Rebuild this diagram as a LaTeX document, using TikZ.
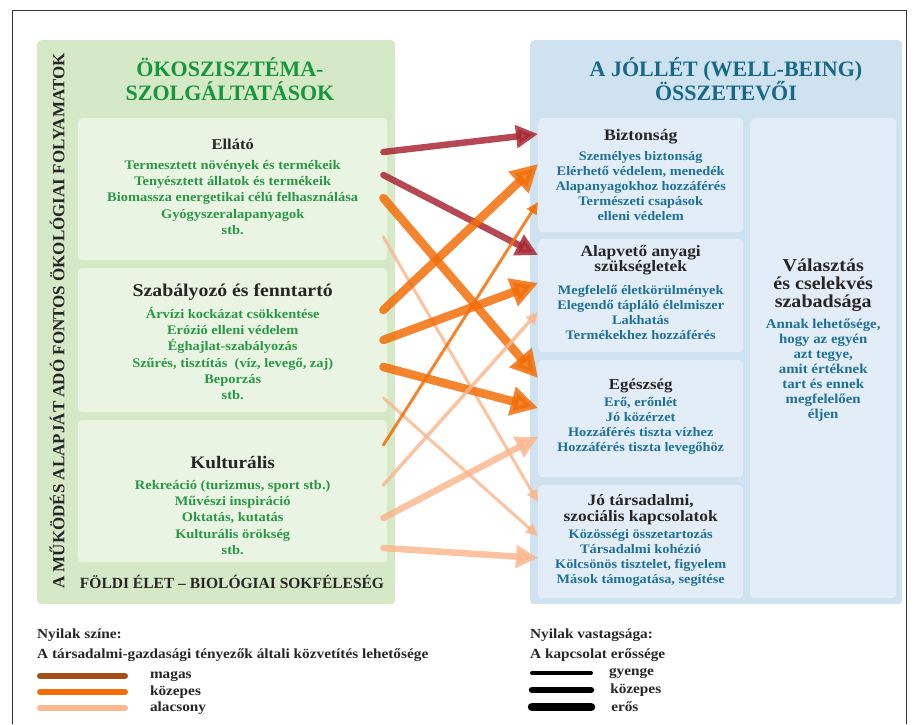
\documentclass[tikz,border=0pt]{standalone}
\usepackage{fontspec}
\setmainfont{Liberation Serif}
\newfontfamily\szeles{Liberation Serif}[FakeStretch=1.1]
\usetikzlibrary{arrows.meta, positioning}

\definecolor{zoldpanel}{RGB}{214,233,198}
\definecolor{zoldcsempe}{RGB}{233,244,226}
\definecolor{kekpanel}{RGB}{207,226,240}
\definecolor{kekcsempe}{RGB}{226,237,247}
\definecolor{zoldcim}{RGB}{24,150,62}
\definecolor{zoldbetu}{RGB}{42,150,72}
\definecolor{kekcim}{RGB}{24,104,134}
\definecolor{kekbetu}{RGB}{30,112,150}
\definecolor{fejszin}{RGB}{38,38,38}
\definecolor{magas}{RGB}{168,40,52}
\definecolor{magasjel}{RGB}{165,78,22}
\definecolor{kozep}{RGB}{242,110,8}
\definecolor{alacsony}{RGB}{250,184,142}

\begin{document}
\begin{tikzpicture}[x=1pt, y=1pt]
\tikzset{
  panel/.style={
    rectangle,
    rounded corners=4pt,
    inner sep=0pt,
    anchor=north west},
  csempe/.style={
    rectangle,
    rounded corners=4pt,
    inner sep=0pt,
    anchor=north west},
  fej/.style={
    font=\szeles\bfseries\fontsize{16}{16}\selectfont,
    text=fejszin, align=center, inner sep=0pt},
  zoldlista/.style={
    font=\szeles\bfseries\fontsize{13.1}{16.3}\selectfont,
    text=zoldbetu, align=center, inner sep=0pt},
  keklista/.style={
    font=\szeles\bfseries\fontsize{13}{15}\selectfont,
    text=kekbetu, align=center, inner sep=0pt},
  nagycim/.style={
    font=\bfseries\fontsize{22}{24.5}\selectfont,
    align=center, inner sep=0pt},
  jelmagy/.style={
    font=\szeles\bfseries\fontsize{13.9}{20}\selectfont,
    text=fejszin, align=left, inner sep=0pt, anchor=west},
  nyil/.style={line cap=round, opacity=0.85},
  gyenge/.style={nyil, line width=3pt, -{Triangle[length=12pt,width=11pt]}},
  kozepes/.style={nyil, line width=6.5pt, -{Triangle[length=22pt,width=22pt]}},
  eros/.style={nyil, line width=8.5pt, -{Triangle[length=27pt,width=28pt]}},
  savjel/.style={line cap=round},
}
\useasboundingbox (0,0) rectangle (918,-724);
% keret
\draw[line width=1pt, black!80] (12,-724) -- (12,-10) -- (906,-10) -- (906,-724);

% bal oldal: okoszisztema-szolgaltatasok
\node[panel, fill=zoldpanel, minimum width=358pt, minimum height=564pt] (okopanel) at (37,-40) {};
\node[nagycim, text=zoldcim] (okocim) at (230,-79) {ÖKOSZISZTÉMA-\\SZOLGÁLTATÁSOK};
\node[rotate=90, font=\bfseries\fontsize{17}{18}\selectfont, text=fejszin, inner sep=0pt]
  (folyamat) at (57,-321) {A MŰKÖDÉS ALAPJÁT ADÓ FONTOS ÖKOLÓGIAI FOLYAMATOK};
\node[font=\bfseries\fontsize{15.5}{18}\selectfont, text=fejszin, inner sep=0pt]
  (foldi) at (232,-582) {FÖLDI ÉLET – BIOLÓGIAI SOKFÉLESÉG};

\node[csempe, fill=zoldcsempe, minimum width=309pt, minimum height=142pt] (ellato) at (78,-118) {};
\node[fej, font=\szeles\bfseries\fontsize{15}{16}\selectfont] (ellatofej) at ([yshift=-26pt]ellato.north) {Ellátó};
\node[zoldlista] (ellatolista) at ([yshift=-79.5pt]ellato.north)
  {Termesztett növények és termékeik\\Tenyésztett állatok és termékeik\\
   Biomassza energetikai célú felhasználása\\Gyógyszeralapanyagok\\stb.};

\node[csempe, fill=zoldcsempe, minimum width=309pt, minimum height=144pt] (szab) at (78,-268) {};
\node[fej, font=\szeles\bfseries\fontsize{18}{18}\selectfont] (szabfej) at ([yshift=-24pt]szab.north) {Szabályozó és fenntartó};
\node[zoldlista] (szablista) at ([yshift=-85.5pt]szab.north)
  {Árvízi kockázat csökkentése\\Erózió elleni védelem\\Éghajlat-szabályozás\\
   Szűrés, tisztítás~ (víz, levegő, zaj)\\Beporzás\\stb.};

\node[csempe, fill=zoldcsempe, minimum width=309pt, minimum height=142pt] (kult) at (78,-420) {};
\node[fej, font=\szeles\bfseries\fontsize{17.5}{18}\selectfont] (kultfej) at ([yshift=-43pt]kult.north) {Kulturális};
\node[zoldlista] (kultlista) at ([yshift=-97.5pt]kult.north)
  {Rekreáció (turizmus, sport stb.)\\Művészi inspiráció\\Oktatás, kutatás\\
   Kulturális örökség\\stb.};

% jobb oldal: a jollet osszetevoi
\node[panel, fill=kekpanel, minimum width=372pt, minimum height=564pt] (jolpanel) at (530,-40) {};
\node[nagycim, text=kekcim] (jolcim) at (726,-79) {A JÓLLÉT (WELL-BEING)\\ÖSSZETEVŐI};

\node[csempe, fill=kekcsempe, minimum width=205pt, minimum height=114pt] (bizt) at (538,-118) {};
\node[fej] (biztfej) at ([yshift=-19pt]bizt.north) {Biztonság};
\node[keklista] (biztlista) at ([yshift=-68.5pt]bizt.north)
  {Személyes biztonság\\Elérhető védelem, menedék\\Alapanyagokhoz hozzáférés\\
   Természeti csapások\\elleni védelem};

\node[csempe, fill=kekcsempe, minimum width=205pt, minimum height=113pt] (alap) at (538,-239) {};
\node[fej, font=\szeles\bfseries\fontsize{15.8}{15}\selectfont] (alapfej) at ([yshift=-21.5pt]alap.north) {Alapvető anyagi\\szükségletek};
\node[keklista] (alaplista) at ([yshift=-73.5pt]alap.north)
  {Megfelelő életkörülmények\\Elegendő tápláló élelmiszer\\Lakhatás\\Termékekhez hozzáférés};

\node[csempe, fill=kekcsempe, minimum width=205pt, minimum height=117pt] (egesz) at (538,-360) {};
\node[fej, font=\szeles\bfseries\fontsize{15.3}{15}\selectfont] (egeszfej) at ([yshift=-26pt]egesz.north) {Egészség};
\node[keklista] (egeszlista) at ([yshift=-65.5pt]egesz.north)
  {Erő, erőnlét\\Jó közérzet\\Hozzáférés tiszta vízhez\\Hozzáférés tiszta levegőhöz};

\node[csempe, fill=kekcsempe, minimum width=205pt, minimum height=113pt] (tars) at (538,-485) {};
\node[fej, font=\szeles\bfseries\fontsize{15.8}{16}\selectfont] (tarsfej) at ([yshift=-25pt]tars.north) {Jó társadalmi,\\szociális kapcsolatok};
\node[keklista] (tarslista) at ([yshift=-72.5pt]tars.north)
  {Közösségi összetartozás\\Társadalmi kohézió\\Kölcsönös tisztelet, figyelem\\
   Mások támogatása, segítése};

\node[csempe, fill=kekcsempe, minimum width=146pt, minimum height=480pt] (valaszt) at (750,-118) {};
\node[fej, font=\szeles\bfseries\fontsize{18.2}{18}\selectfont] (valasztfej) at ([yshift=-167pt]valaszt.north)
  {Választás\\és cselekvés\\szabadsága};
\node[keklista, font=\szeles\bfseries\fontsize{13.5}{15}\selectfont] (valasztlista) at ([yshift=-252pt]valaszt.north)
  {Annak lehetősége,\\hogy az egyén\\azt tegye,\\amit értéknek\\tart és ennek\\megfelelően\\éljen};

% nyilak
\draw[kozepes, magas] ([xshift=-4pt,yshift=-34pt]ellato.north east) -- ([yshift=-16pt]bizt.north west);
\draw[kozepes, magas] ([xshift=-4pt,yshift=-57pt]ellato.north east) -- ([yshift=-16pt]alap.north west);
\draw[eros, kozep] ([xshift=-4pt,yshift=-80pt]ellato.north east) -- ([yshift=-18pt]egesz.north west);
\draw[gyenge, alacsony] ([xshift=-4pt,yshift=-119pt]ellato.north east) -- ([yshift=-17pt]tars.north west);

\draw[eros, kozep] ([xshift=-4pt,yshift=-42pt]szab.north east) -- ([yshift=-46pt]bizt.north west);
\draw[eros, kozep] ([xshift=-4pt,yshift=-72pt]szab.north east) -- ([yshift=-44pt]alap.north west);
\draw[eros, kozep] ([xshift=-4pt,yshift=-99pt]szab.north east) -- ([yshift=-48pt]egesz.north west);
\draw[gyenge, alacsony] ([xshift=-4pt,yshift=-130pt]szab.north east) -- ([yshift=-51pt]tars.north west);

\draw[gyenge, kozep] ([xshift=-4pt,yshift=-25pt]kult.north east) -- ([yshift=-84pt]bizt.north west);
\draw[gyenge, alacsony, line width=3.5pt] ([xshift=-4pt,yshift=-65pt]kult.north east) -- ([yshift=-73pt]alap.north west);
\draw[kozepes, alacsony] ([xshift=-4pt,yshift=-98pt]kult.north east) -- ([yshift=-77pt]egesz.north west);
\draw[kozepes, alacsony] ([xshift=-4pt,yshift=-128pt]kult.north east) -- ([yshift=-73pt]tars.north west);

% jelmagyarazat
\node[jelmagy] (szinecim) at (37,-645) {Nyilak színe:\\A társadalmi-gazdasági tényezők általi közvetítés lehetősége};
\coordinate (szin1) at (40,-676);
\coordinate (szin2) at (40,-692);
\coordinate (szin3) at (40,-708);
\draw[savjel, line width=6pt, magasjel] (szin1) -- ++(85,0) node[jelmagy, right=22pt] (magasszo) {magas};
\draw[savjel, line width=6pt, kozep] (szin2) -- ++(85,0) node[jelmagy, right=22pt] (kozepszo) {közepes};
\draw[savjel, line width=6pt, alacsony] (szin3) -- ++(85,0) node[jelmagy, right=22pt] (alacsonyszo) {alacsony};

\node[jelmagy] (vastagcim) at (530,-645) {Nyilak vastagsága:\\A kapcsolat erőssége};
\coordinate (vast1) at (532,-673);
\coordinate (vast2) at (532,-690);
\coordinate (vast3) at (532,-707);
\draw[savjel, line width=4pt] (vast1) -- ++(59,0) node[jelmagy, right=16pt] (gyengeszo) {gyenge};
\draw[savjel, line width=6.5pt] (vast2) -- ++(59,0) node[jelmagy, right=16pt] (kozepesszo) {közepes};
\draw[savjel, line width=8.5pt] (vast3) -- ++(59,0) node[jelmagy, right=16pt] (erosszo) {erős};

\end{tikzpicture}
\end{document}
